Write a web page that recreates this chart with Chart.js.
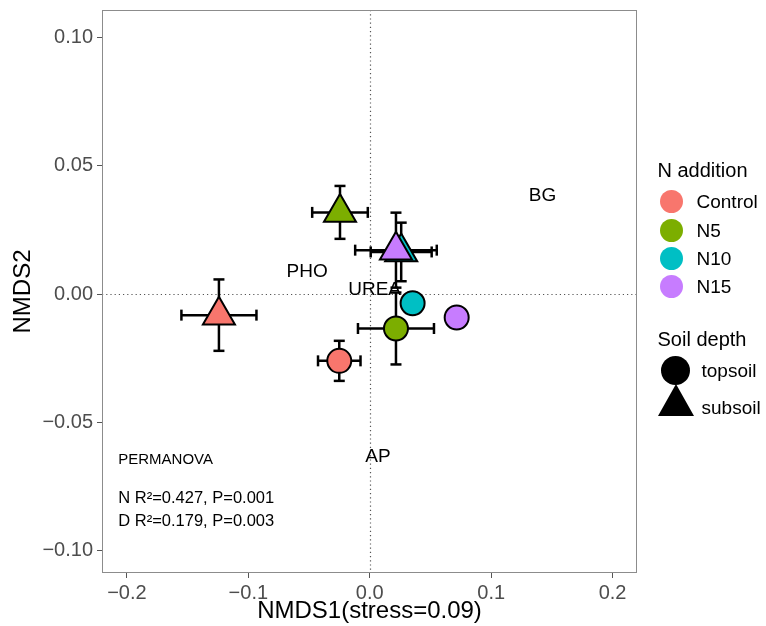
<!DOCTYPE html>
<html>
<head>
<meta charset="utf-8">
<script src="https://cdn.jsdelivr.net/npm/chart.js@4"></script>
<style>
  body { margin: 0; background: #fff; }
  #wrap { position: relative; width: 766px; height: 626px; font-family: "Liberation Sans", Arial, sans-serif; }
  .lg { position: absolute; white-space: nowrap; color: #000; }
  .dot { position: absolute; border-radius: 50%; }
  .tri { position: absolute; width: 0; height: 0; border-left: 18px solid transparent; border-right: 18px solid transparent; border-bottom: 32px solid #000; }
</style>
</head>
<body>
<div id="wrap">
  <canvas id="chart"></canvas>
  <div id="legend"></div>
</div>
<script>
// groups and depth classes
var groups = ['Control', 'N5', 'N10', 'N15'];
var depths = ['topsoil', 'subsoil'];

// NMDS scores (mean) and error bars
var topsoilX = [-0.0251, 0.0216, 0.0353, 0.0716];
var topsoilY = [-0.0260, -0.0134, -0.0036, -0.0091];
var topsoilXErr = [0.0175, 0.0313, 0.0060, 0.0060];
var topsoilYErr = [0.0078, 0.0140, 0.0040, 0.0040];

var subsoilX = [-0.1242, -0.0245, 0.0259, 0.0216];
var subsoilY = [-0.0082, 0.0318, 0.0164, 0.0171];
var subsoilXErr = [0.0309, 0.0229, 0.0251, 0.0336];
var subsoilYErr = [0.0139, 0.0103, 0.0114, 0.0146];

// envfit labels
var envLabels = ['PHO', 'UREA', 'BG', 'AP'];
var envX = [-0.0516, 0.0040, 0.1423, 0.0068];
var envY = [0.0088, 0.0016, 0.0381, -0.0634];

// PERMANOVA note
var statLines = ['PERMANOVA', 'N R\u00b2=0.427, P=0.001', 'D R\u00b2=0.179, P=0.003'];
var statX = -0.2071;
var statY = [-0.0647, -0.0797, -0.0884];

// axes
var xTicks = [-0.2, -0.1, 0, 0.1, 0.2];
var xTickLabels = ['\u22120.2', '\u22120.1', '0.0', '0.1', '0.2'];
var yTicks = [-0.10, -0.05, 0, 0.05, 0.10];
var yTickLabels = ['\u22120.10', '\u22120.05', '0.00', '0.05', '0.10'];
var xRange = [-0.2205, 0.2201];
var yRange = [-0.1086, 0.1106];

var colors = ['#F8766D', '#7CAE00', '#00BFC4', '#C77CFF'];
var FONT = '"Liberation Sans", Arial, sans-serif';

var datasets = [];

// error bars (drawn under the points)
var errBar = (from, to, rot) => ({
    data: [from, to],
    showLine: true,
    borderColor: '#000',
    borderWidth: 2.5,
    pointStyle: 'line',
    pointRadius: 5.5,
    pointRotation: rot,
    pointBorderColor: '#000',
    pointBorderWidth: 2.5,
    order: 10
});

for (var i = 0; i < groups.length; i++) {
    var sets = [
        [topsoilX[i], topsoilY[i], topsoilXErr[i], topsoilYErr[i]],
        [subsoilX[i], subsoilY[i], subsoilXErr[i], subsoilYErr[i]]
    ];
    sets.forEach((s) => {
        datasets.push(errBar({x: s[0] - s[2], y: s[1]}, {x: s[0] + s[2], y: s[1]}, 90));
        datasets.push(errBar({x: s[0], y: s[1] - s[3]}, {x: s[0], y: s[1] + s[3]}, 0));
    });
}

for (var i = 0; i < groups.length; i++) {
    datasets.push({
        label: groups[i],
        data: [{x: topsoilX[i], y: topsoilY[i]}, {x: subsoilX[i], y: subsoilY[i]}],
        pointStyle: ['circle', 'triangle'],
        pointRadius: [12, 18.5],
        backgroundColor: colors[i],
        borderColor: '#000',
        borderWidth: 2,
        order: groups.length - i
    });
}

var overlay = {
    id: 'overlay',
    beforeDatasetsDraw(chart) {
        var ctx = chart.ctx, a = chart.chartArea;
        var xs = chart.scales.x, ys = chart.scales.y;
        ctx.save();
        // dotted zero lines
        ctx.strokeStyle = '#555';
        ctx.lineWidth = 1.2;
        ctx.setLineDash([1.2, 3]);
        var x0 = Math.round(xs.getPixelForValue(0)) + 0.5;
        var y0 = Math.round(ys.getPixelForValue(0)) + 0.5;
        ctx.beginPath();
        ctx.moveTo(x0, a.top); ctx.lineTo(x0, a.bottom);
        ctx.moveTo(a.left, y0); ctx.lineTo(a.right, y0);
        ctx.stroke();
        ctx.setLineDash([]);

        // env labels
        ctx.fillStyle = '#000';
        ctx.textAlign = 'center';
        ctx.textBaseline = 'middle';
        ctx.font = '19px ' + FONT;
        envLabels.forEach((t, k) => {
            ctx.fillText(t, xs.getPixelForValue(envX[k]), ys.getPixelForValue(envY[k]));
        });

        // PERMANOVA
        ctx.textAlign = 'left';
        statLines.forEach((t, k) => {
            ctx.font = (k == 0 ? '15px ' : '16.5px ') + FONT;
            ctx.fillText(t, xs.getPixelForValue(statX), ys.getPixelForValue(statY[k]));
        });
        ctx.restore();
    },
    afterDraw(chart) {
        var ctx = chart.ctx, a = chart.chartArea;
        ctx.save();
        ctx.strokeStyle = '#8c8c8c';
        ctx.lineWidth = 1;
        ctx.strokeRect(Math.round(a.left) + 0.5, Math.round(a.top) + 0.5,
            Math.round(a.right - a.left) - 1, Math.round(a.bottom - a.top) - 1);
        ctx.restore();
    }
};

new Chart(document.getElementById('chart'), {
    type: 'scatter',
    data: {datasets: datasets},
    plugins: [overlay],
    options: {
        responsive: true,
        maintainAspectRatio: false,
        animation: false,
        layout: {autoPadding: false, padding: {left: 0, right: 129, top: 10, bottom: 0}},
        plugins: {legend: {display: false}, tooltip: {enabled: false}},
        scales: {
            x: {
                type: 'linear',
                min: xRange[0],
                max: xRange[1],
                afterBuildTicks: (s) => { s.ticks = xTicks.map((v) => ({value: v})); },
                afterFit: (s) => { s.height = 53; s.paddingLeft = 0; s.paddingRight = 0; },
                grid: {drawOnChartArea: false, drawTicks: true, tickLength: 5, tickColor: '#555'},
                border: {display: false},
                ticks: {
                    padding: 3,
                    color: '#4d4d4d',
                    font: {size: 20, family: FONT},
                    maxRotation: 0,
                    callback: (v, idx) => xTickLabels[idx]
                },
                title: {display: true, text: 'NMDS1(stress=0.09)', color: '#000',
                    font: {size: 24, family: FONT}, padding: {top: 0, bottom: 0}}
            },
            y: {
                type: 'linear',
                min: yRange[0],
                max: yRange[1],
                afterBuildTicks: (s) => { s.ticks = yTicks.map((v) => ({value: v})); },
                afterFit: (s) => { s.width = 102; s.paddingTop = 0; s.paddingBottom = 0; },
                grid: {drawOnChartArea: false, drawTicks: true, tickLength: 5, tickColor: '#555'},
                border: {display: false},
                ticks: {
                    padding: 4,
                    color: '#4d4d4d',
                    font: {size: 20, family: FONT},
                    callback: (v, idx) => yTickLabels[idx]
                },
                title: {display: true, text: 'NMDS2', color: '#000',
                    font: {size: 24, family: FONT}, padding: {top: 9, bottom: 0}}
            }
        }
    }
});

// legend
var legend = document.getElementById('legend');
var addText = (txt, left, cy, size) => {
    var d = document.createElement('div');
    d.className = 'lg';
    d.textContent = txt;
    d.style.left = left + 'px';
    d.style.top = (cy - size / 2) + 'px';
    d.style.fontSize = size + 'px';
    d.style.lineHeight = size + 'px';
    legend.appendChild(d);
};
addText('N addition', 657.5, 170, 20);
groups.forEach((g, k) => {
    var cy = 201.7 + k * 28.3;
    var c = document.createElement('div');
    c.className = 'dot';
    c.style.width = '23px'; c.style.height = '23px';
    c.style.left = (671.7 - 11.5) + 'px';
    c.style.top = (cy - 11.5) + 'px';
    c.style.background = colors[k];
    legend.appendChild(c);
    addText(g, 696.5, cy, 19);
});
addText('Soil depth', 657.5, 339, 20);
var c = document.createElement('div');
c.className = 'dot';
c.style.width = '29px'; c.style.height = '29px';
c.style.left = (675.3 - 14.5) + 'px';
c.style.top = (370.5 - 14.5) + 'px';
c.style.background = '#000';
legend.appendChild(c);
addText(depths[0], 701.5, 370, 19);
var t = document.createElement('div');
t.className = 'tri';
t.style.left = '657.5px';
t.style.top = '384px';
legend.appendChild(t);
addText(depths[1], 701.5, 407, 19);
</script>
</body>
</html>
